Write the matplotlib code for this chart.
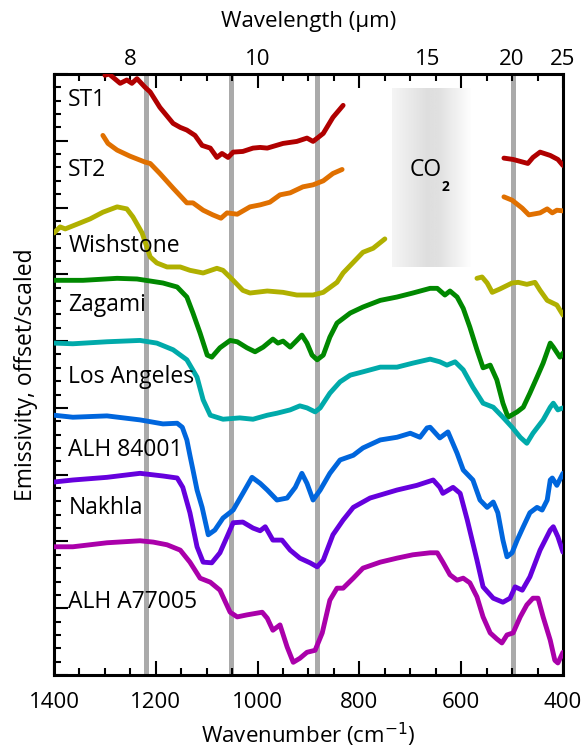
import numpy as np
import matplotlib
matplotlib.use("Agg")
import matplotlib.pyplot as plt
from matplotlib.ticker import MultipleLocator, FixedLocator, NullFormatter

plt.rcParams['font.family'] = ['Open Sans', 'DejaVu Sans']

nan = np.nan

# wavenumber (cm-1) / emissivity (offset, scaled; arbitrary units), NaN = CO2 gap
st1_wn = [1300, 1292, 1270, 1257, 1247, 1237, 1221, 1211, 1192, 1166, 1152, 1139, 1123, 1109, 1093,
          1080, 1070, 1058, 1048, 1029, 1009, 995, 981, 950, 923, 903, 891, 871, 852, 832,
          nan, 516, 498, 469, 459, 445, 425, 410, 400]
st1_e = [8.98, 9.00, 8.86, 8.91, 8.86, 8.93, 8.80, 8.73, 8.50, 8.26, 8.20, 8.16, 8.08, 7.93, 7.89,
         7.75, 7.81, 7.75, 7.83, 7.84, 7.89, 7.90, 7.89, 7.96, 7.99, 8.04, 7.99, 8.11, 8.35, 8.53,
         nan, 7.74, 7.72, 7.66, 7.75, 7.83, 7.78, 7.72, 7.63]

st2_wn = [1304, 1294, 1276, 1251, 1221, 1211, 1192, 1166, 1139, 1127, 1107, 1088, 1072, 1060, 1040,
          1015, 995, 976, 956, 936, 911, 891, 871, 852, 834,
          nan, 516, 500, 480, 467, 445, 431, 421, 412, 400]
st2_e = [8.08, 7.96, 7.86, 7.77, 7.68, 7.66, 7.51, 7.29, 7.07, 7.07, 6.96, 6.89, 6.84, 6.92, 6.90,
         7.01, 7.04, 7.08, 7.19, 7.22, 7.31, 7.34, 7.40, 7.51, 7.57,
         nan, 7.16, 7.11, 6.99, 6.89, 6.92, 6.98, 6.92, 6.96, 6.95]

wish_wn = [1400, 1388, 1378, 1355, 1329, 1304, 1276, 1257, 1245, 1227, 1211, 1198, 1178, 1152, 1133,
           1107, 1080, 1068, 1048, 1029, 1015, 981, 950, 923, 891, 871, 844, 832, 793, 773, 750,
           nan, 569, 559, 549, 539, 524, 500, 488, 471, 455, 445, 431, 412, 400]
wish_e = [6.62, 6.71, 6.68, 6.75, 6.83, 6.93, 7.01, 6.98, 6.86, 6.62, 6.26, 6.17, 6.11, 6.11, 6.06,
          6.02, 6.09, 6.06, 5.91, 5.76, 5.72, 5.75, 5.73, 5.69, 5.69, 5.73, 5.88, 6.02, 6.33, 6.39, 6.53,
          nan, 5.94, 5.96, 5.87, 5.73, 5.78, 5.87, 5.88, 5.85, 5.88, 5.76, 5.61, 5.54, 5.39]

zag_wn = [1400, 1343, 1276, 1237, 1186, 1158, 1139, 1127, 1113, 1099, 1090, 1074, 1054, 1040, 1021,
          1005, 989, 970, 960, 950, 936, 923, 913, 903, 893, 883, 871, 858, 844, 818, 793, 759,
          726, 695, 661, 647, 632, 622, 608, 596, 583, 569, 557, 543, 530, 518, 508, 490, 478,
          465, 451, 439, 425, 419, 406, 400]
zag_e = [5.91, 5.91, 5.94, 5.93, 5.87, 5.81, 5.66, 5.42, 5.12, 4.79, 4.76, 4.90, 5.01, 4.99, 4.90,
         4.84, 4.91, 5.03, 4.97, 5.00, 4.91, 5.01, 5.09, 4.97, 4.79, 4.72, 4.79, 5.06, 5.27, 5.42, 5.51, 5.61,
         5.66, 5.72, 5.79, 5.79, 5.69, 5.75, 5.66, 5.49, 5.21, 4.87, 4.60, 4.64, 4.42, 4.07, 3.86, 3.94, 4.01,
         4.22, 4.46, 4.67, 4.97, 4.91, 4.76, 4.82]

la_wn = [1400, 1363, 1296, 1231, 1198, 1166, 1139, 1119, 1107, 1093, 1068, 1035, 1009, 981, 962,
         936, 917, 903, 887, 877, 858, 838, 818, 793, 759, 726, 695, 661, 642, 628, 612, 596,
         577, 557, 537, 518, 500, 484, 471, 459, 439, 425, 419, 410, 400]
la_e = [4.97, 4.96, 4.99, 5.01, 4.97, 4.87, 4.72, 4.46, 4.12, 3.89, 3.83, 3.85, 3.83, 3.89, 3.92,
        3.97, 4.03, 4.00, 3.94, 4.00, 4.22, 4.39, 4.49, 4.54, 4.61, 4.61, 4.67, 4.73, 4.69, 4.64, 4.69, 4.57,
        4.31, 4.07, 4.01, 3.86, 3.71, 3.56, 3.47, 3.62, 3.82, 4.01, 4.07, 3.97, 4.00]

alh84_wn = [1400, 1363, 1296, 1231, 1186, 1158, 1148, 1139, 1133, 1127, 1119, 1109, 1097, 1084, 1068,
            1048, 1029, 1011, 995, 981, 962, 942, 926, 913, 903, 891, 877, 858, 838, 812, 793,
            759, 726, 700, 681, 667, 661, 642, 626, 608, 596, 577, 563, 549, 537, 528, 518, 510,
            500, 490, 478, 465, 451, 441, 431, 425, 421, 412, 400]
alh84_e = [3.89, 3.86, 3.88, 3.82, 3.76, 3.77, 3.71, 3.52, 3.29, 3.07, 2.77, 2.51, 2.10, 2.17, 2.35,
           2.47, 2.72, 2.96, 2.87, 2.77, 2.62, 2.65, 2.81, 3.02, 2.87, 2.62, 2.77, 3.02, 3.22, 3.29, 3.40,
           3.52, 3.56, 3.62, 3.56, 3.70, 3.71, 3.55, 3.64, 3.32, 3.07, 2.92, 2.62, 2.51, 2.59, 2.43, 2.02, 1.77,
           1.83, 2.02, 2.22, 2.43, 2.51, 2.47, 2.62, 2.92, 2.95, 2.84, 3.02]

nak_wn = [1400, 1363, 1296, 1231, 1186, 1158, 1147, 1133, 1119, 1107, 1090, 1074, 1060, 1048, 1029,
          1009, 995, 985, 970, 952, 936, 917, 897, 883, 871, 852, 832, 812, 779, 726, 687, 655,
          642, 636, 616, 602, 588, 569, 557, 537, 518, 504, 494, 480, 465, 445, 425, 419, 410, 400]
nak_e = [2.89, 2.92, 2.96, 3.02, 2.98, 2.95, 2.81, 2.43, 1.92, 1.69, 1.68, 1.83, 2.07, 2.28, 2.29,
         2.20, 2.16, 2.22, 2.02, 2.02, 1.87, 1.75, 1.68, 1.62, 1.72, 2.10, 2.32, 2.51, 2.65, 2.77, 2.84, 2.92,
         2.81, 2.72, 2.81, 2.72, 2.32, 1.72, 1.32, 1.15, 1.09, 1.15, 1.32, 1.27, 1.47, 1.87, 2.17, 2.22, 2.07, 1.84]

alh77_wn = [1400, 1363, 1296, 1231, 1205, 1178, 1152, 1133, 1113, 1093, 1074, 1054, 1040, 1021, 991,
            981, 970, 956, 942, 930, 917, 903, 887, 873, 858, 844, 832, 812, 793, 759, 726, 695,
            661, 647, 636, 622, 608, 596, 583, 569, 557, 543, 530, 520, 510, 498, 484, 471, 459,
            449, 439, 425, 416, 410, 400]
alh77_e = [1.92, 1.92, 1.98, 2.01, 1.99, 1.95, 1.87, 1.69, 1.45, 1.39, 1.27, 0.94, 0.87, 0.90, 0.94,
           0.85, 0.67, 0.75, 0.42, 0.19, 0.25, 0.34, 0.37, 0.63, 1.12, 1.30, 1.30, 1.45, 1.60, 1.69, 1.75, 1.80,
           1.83, 1.83, 1.69, 1.50, 1.42, 1.45, 1.38, 1.17, 0.87, 0.63, 0.54, 0.48, 0.60, 0.63, 0.87, 1.05, 1.15,
           1.15, 0.87, 0.52, 0.22, 0.18, 0.34]

names = ["ST1", "ST2", "Wishstone", "Zagami", "Los Angeles", "ALH 84001", "Nakhla", "ALH A77005"]
label_y = [8.61, 7.56, 6.42, 5.54, 4.46, 3.37, 2.50, 1.09]
colors = ["#b00000", "#e07000", "#b0b000", "#008800", "#00aaaa", "#0066dd", "#6600dd", "#aa00aa"]
series = [(st1_wn, st1_e), (st2_wn, st2_e), (wish_wn, wish_e), (zag_wn, zag_e),
          (la_wn, la_e), (alh84_wn, alh84_e), (nak_wn, nak_e), (alh77_wn, alh77_e)]

band_lines = [1220, 1052, 883, 498]
co2_band = (736, 582)
top_ticks = [8, 10, 15, 20, 25]

fig = plt.figure(figsize=(5.84, 7.51), dpi=100)
ax = fig.add_axes([0.0925, 0.1012, 0.8715, 0.8003])

# CO2 shaded band
grad_x = np.linspace(0, 1, 200)
grad = np.interp(grad_x, [0, 0.45, 0.6, 1], [0.96, 0.87, 0.88, 0.995])
ax.imshow(grad[np.newaxis, :], extent=(co2_band[0], co2_band[1], 6.11, 8.79),
          aspect='auto', cmap='gray', vmin=0, vmax=1, zorder=0)
ax.text(669, 7.56, "CO", fontsize=16.5, ha='center', va='center')
ax.text(630, 7.31, "2", fontsize=10, fontweight='bold', ha='center', va='center')

for x in band_lines:
    ax.axvline(x, ymin=0.004, ymax=1, color="#aaaaaa", lw=3.6, zorder=1)

for (wn, e), c in zip(series, colors):
    ax.plot(wn, e, color=c, lw=3.5, solid_capstyle='round', solid_joinstyle='round', zorder=3)

for name, y in zip(names, label_y):
    ax.text(1372, y, name, fontsize=16.5, va='center', ha='left', zorder=4)

ax.set_xlim(1400, 400)
ax.set_ylim(0, 9)
ax.xaxis.set_major_locator(MultipleLocator(200))
ax.xaxis.set_minor_locator(MultipleLocator(50))
ax.yaxis.set_major_locator(MultipleLocator(1))
ax.yaxis.set_minor_locator(MultipleLocator(0.2))
ax.yaxis.set_major_formatter(NullFormatter())
ax.tick_params(axis='x', which='both', direction='in', top=True, labeltop=False,
               labelsize=16, pad=12, width=1.5)
ax.tick_params(axis='y', which='both', direction='in', right=False, width=1.5)
ax.tick_params(which='major', length=10)
ax.tick_params(which='minor', length=5)
for s in ax.spines.values():
    s.set_linewidth(2.2)

ax.set_xlabel("Wavenumber (cm$^{-1}$)", fontsize=16, labelpad=6)
ax.set_ylabel("Emissivity, offset/scaled", fontsize=16.5, labelpad=8)


def wn2um(x):
    x = np.asarray(x, dtype=float)
    out = np.full_like(x, np.inf)
    np.divide(1e4, x, out=out, where=x != 0)
    return out


sec = ax.secondary_xaxis('top', functions=(wn2um, wn2um))
sec.xaxis.set_major_locator(FixedLocator(top_ticks))
sec.xaxis.set_minor_locator(FixedLocator([]))
sec.tick_params(length=0, labelsize=16, pad=3)
sec.spines['top'].set_visible(False)
sec.set_xlabel("Wavelength (\u00b5m)", fontsize=16, labelpad=16)

fig.savefig("out.png", dpi=100)
